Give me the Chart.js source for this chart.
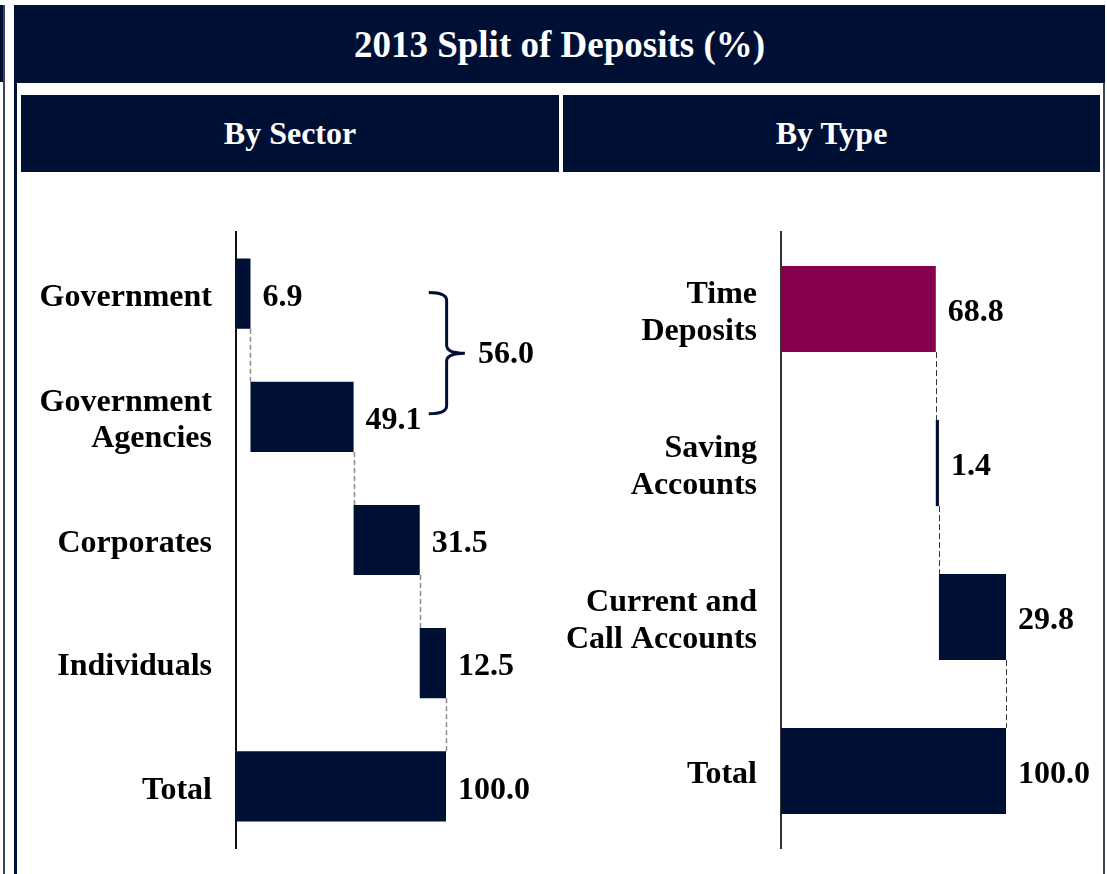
<!DOCTYPE html>
<html><head><meta charset="utf-8">
<script src="https://cdn.jsdelivr.net/npm/chart.js@4.4.0/dist/chart.umd.min.js"></script>
<style>
html,body{margin:0;padding:0;background:#fff;width:1107px;height:874px;overflow:hidden;font-family:"Liberation Serif","Times New Roman",serif;}
.abs{position:absolute;}
#strip{left:0;top:5px;width:5px;height:77px;background:#001035;}
#stripline{left:3px;top:5px;width:2px;height:869px;background:#3a4563;}
#frameL{left:14px;top:5px;width:2.5px;height:869px;background:#001035;}
#frameR{left:1103px;top:5px;width:2px;height:869px;background:#3a4563;}
#title{left:14px;top:5px;width:1091px;height:78px;background:#001035;color:#fff;font-weight:bold;font-size:37px;display:flex;align-items:center;justify-content:center;}
.sub{top:95px;height:77px;background:#001035;color:#fff;font-weight:bold;font-size:32px;display:flex;align-items:center;justify-content:center;}
canvas{position:absolute;}
</style>
</head><body>
<div id="strip" class="abs"></div>
<div id="stripline" class="abs"></div>
<div id="frameL" class="abs"></div>
<div id="frameR" class="abs"></div>
<div id="title" class="abs">2013 Split of Deposits (%)</div>
<div class="abs sub" style="left:21px;width:538px;">By Sector</div>
<div class="abs sub" style="left:563px;width:537px;">By Type</div>
<canvas id="c1" width="538" height="680" style="left:21px;top:180px;"></canvas>
<canvas id="c2" width="537" height="680" style="left:563px;top:180px;"></canvas>
<script>
// ---- data ----
const sectorLabels = ['Government', ['Government', 'Agencies'], 'Corporates', 'Individuals', 'Total'];
const sectorValues = [6.9, 49.1, 31.5, 12.5, 100.0];
const sectorBracket = [0, 1];           // indices grouped by the brace
const typeLabels = [['Time', 'Deposits'], ['Saving', 'Accounts'], ['Current and', 'Call Accounts'], 'Total'];
const typeValues = [68.8, 1.4, 29.8, 100.0];

const NAVY = '#001035';
const MAROON = '#87004f';
const FONT = '"Liberation Serif", "Times New Roman", serif';

function waterfall(values) {
  const out = []; let cum = 0;
  values.forEach((v, i) => {
    if (i === values.length - 1) { out.push([0, v]); }
    else { out.push([cum, cum + v]); cum += v; }
  });
  return out;
}

function makePlugin(values, dashColor, dashWidth, dash, bracket) {
  return {
    id: 'wf',
    beforeDatasetsDraw(chart) {
      const ctx = chart.ctx, meta = chart.getDatasetMeta(0), xs = chart.scales.x;
      const bars = chart.data.datasets[0].data;
      ctx.save();
      ctx.strokeStyle = dashColor; ctx.lineWidth = dashWidth; ctx.setLineDash(dash);
      for (let i = 0; i < bars.length - 1; i++) {
        const a = meta.data[i], b = meta.data[i + 1];
        const x = Math.round(xs.getPixelForValue(bars[i][1])) + 0.5;
        ctx.beginPath();
        ctx.moveTo(x, a.y + a.height / 2);
        ctx.lineTo(x, b.y - b.height / 2);
        ctx.stroke();
      }
      ctx.restore();
    },
    afterDatasetsDraw(chart) {
      const ctx = chart.ctx, meta = chart.getDatasetMeta(0), xs = chart.scales.x;
      ctx.save();
      ctx.fillStyle = '#000';
      ctx.font = 'bold 32px ' + FONT;
      ctx.textBaseline = 'middle';
      ctx.textAlign = 'left';
      meta.data.forEach((el, i) => {
        ctx.fillText(values[i].toFixed(1), el.x + 12, el.y + 4);
      });
      if (bracket) {
        const y1 = meta.data[bracket[0]].y - 1;
        const y2 = meta.data[bracket[1]].y - 3;
        const xa = xs.getPixelForValue(91.8), xb = xs.getPixelForValue(100.3), xt = xs.getPixelForValue(109);
        const ym = (y1 + y2) / 2;
        const r = 8;
        ctx.strokeStyle = NAVY; ctx.lineWidth = 3; ctx.lineCap = 'butt';
        ctx.beginPath();
        ctx.moveTo(xa, y1);
        ctx.quadraticCurveTo(xb, y1, xb, y1 + r);
        ctx.lineTo(xb, ym - r);
        ctx.quadraticCurveTo(xb, ym, xt, ym);
        ctx.moveTo(xt, ym);
        ctx.quadraticCurveTo(xb, ym, xb, ym + r);
        ctx.lineTo(xb, y2 - r);
        ctx.quadraticCurveTo(xb, y2, xa, y2);
        ctx.stroke();
        let s = 0; bracket.forEach(k => s += values[k]);
        ctx.fillStyle = '#000';
        ctx.fillText(s.toFixed(1), xt + 13, ym + 2);
      }
      ctx.restore();
    }
  };
}

function build(id, labels, values, colors, opts) {
  new Chart(document.getElementById(id), {
    type: 'bar',
    data: {
      labels: labels,
      datasets: [{
        data: waterfall(values),
        backgroundColor: colors,
        borderWidth: 0,
        borderSkipped: false,
        categoryPercentage: 1,
        barPercentage: opts.barPct
      }]
    },
    options: {
      indexAxis: 'y',
      responsive: false,
      animation: false,
      events: [],
      layout: { padding: { top: 52, bottom: 12, right: opts.padRight, left: 0 } },
      plugins: { legend: { display: false }, tooltip: { enabled: false } },
      scales: {
        x: { display: false, min: 0, max: opts.xMax },
        y: {
          afterFit(scale) { scale.width = opts.axisW; scale.paddingTop = 0; scale.paddingBottom = 0; },
          grid: { display: false, drawTicks: false },
          border: { display: true, color: opts.axisColor, width: 2 },
          ticks: {
            padding: 24,
            labelOffset: 4,
            color: '#000',
            font: { family: FONT, size: 32, weight: 'bold', lineHeight: 1.15 }
          }
        }
      }
    },
    plugins: [makePlugin(values, opts.dashColor, opts.dashWidth, opts.dash, opts.bracket)]
  });
}

build('c1', sectorLabels, sectorValues, sectorValues.map(() => NAVY),
  { barPct: 0.57, padRight: 8, xMax: 150, axisW: 215, axisColor: '#111', dashColor: '#8a8a8a', dashWidth: 1.5, dash: [5, 3], bracket: sectorBracket });
build('c2', typeLabels, typeValues, typeValues.map((v, i) => i === 0 ? MAROON : NAVY),
  { barPct: 0.56, padRight: 4, xMax: 140, axisW: 218, axisColor: '#333', dashColor: '#333', dashWidth: 1, dash: [6, 3], bracket: null });
</script>
</body></html>
